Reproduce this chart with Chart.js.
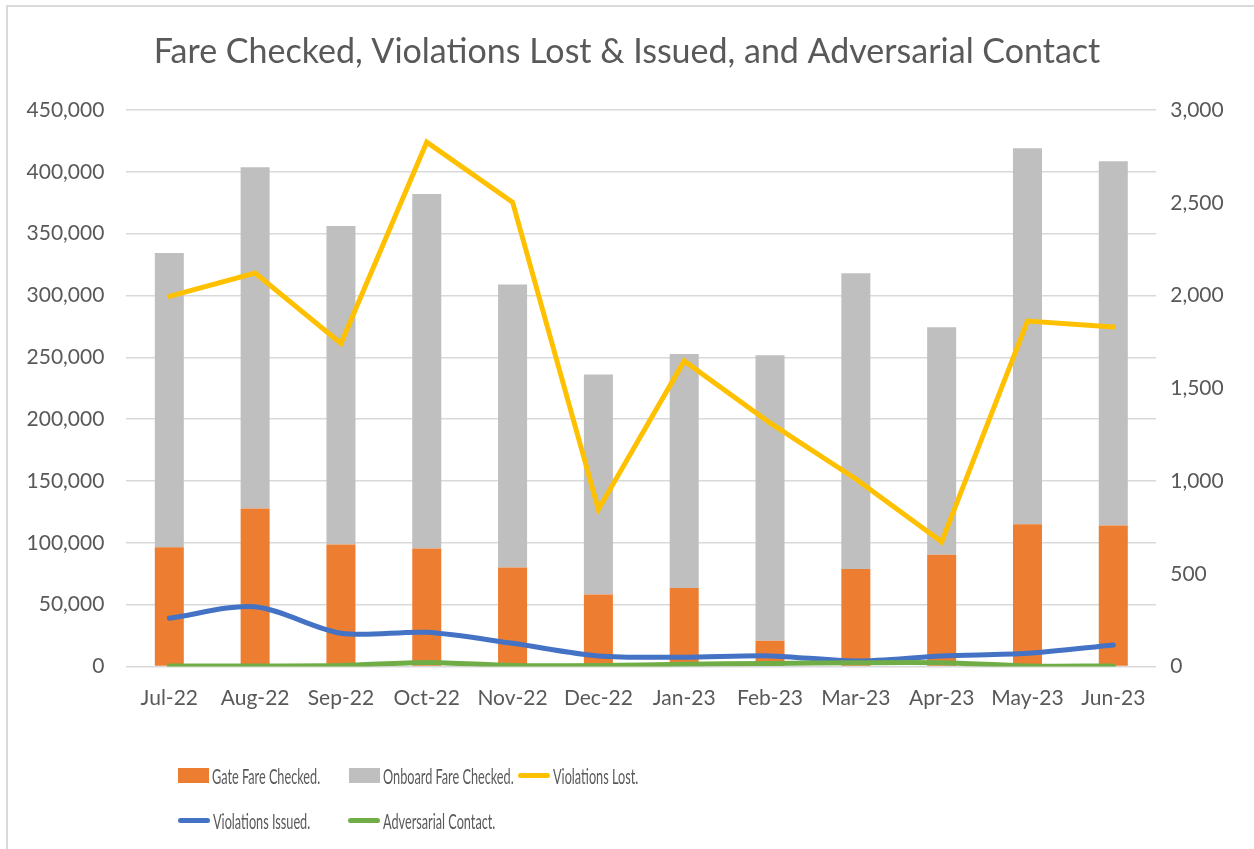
<!DOCTYPE html>
<html><head><meta charset="utf-8">
<script src="https://cdn.jsdelivr.net/npm/chart.js@4/dist/chart.umd.min.js"></script>
<style>
html,body{margin:0;padding:0;background:#fff;overflow:hidden}
#wrap{position:relative;width:1254px;height:849px}
#frame{position:absolute;left:6px;top:5px;width:1300px;height:900px;border-top:2px solid #d9d9d9;border-left:2px solid #d9d9d9;pointer-events:none;box-sizing:border-box}
.li{position:absolute;height:30px;display:flex;align-items:center;font-family:Lato,sans-serif;font-size:21px;color:#595959;white-space:nowrap}
.li .txt{display:inline-block;transform:scaleX(0.605);transform-origin:left center;margin-left:3px}
</style>
</head><body>
<div id="wrap">
<canvas id="c" width="1254" height="849"></canvas>
<div id="frame"></div>
<div id="legend"></div>
</div>
<script>
const categories = ['Jul-22','Aug-22','Sep-22','Oct-22','Nov-22','Dec-22','Jan-23','Feb-23','Mar-23','Apr-23','May-23','Jun-23'];
const gateFareChecked = [96500,127800,98700,95500,80100,58300,63400,20900,78800,90300,115100,114100];
const onboardFareChecked = [237800,276000,257400,286500,228700,177800,189300,230800,239100,184000,304000,294500];
const violationsLost = [1995,2121,1741,2827,2503,847,1647,1313,1011,672,1862,1830];
const violationsIssued = [260,322,179,184,125,57,50,57,30,57,71,116];
const adversarialContact = [3,3,5,22,5,5,12,16,20,20,3,3];
const leftAxis = {min:0, max:450000, step:50000};
const rightAxis = {min:0, max:3000, step:500};
const titleText = 'Fare Checked, Violations Lost & Issued, and Adversarial Contact';

Chart.defaults.font.family = 'Lato, sans-serif';
Chart.defaults.color = '#595959';

const fmt = v => v.toLocaleString('en-US');

const chart = new Chart(document.getElementById('c'), {
  data: {
    labels: categories,
    datasets: [
      {type:'bar', label:'Gate Fare Checked.', data:gateFareChecked, backgroundColor:'#ED7D31', yAxisID:'y', order:3, barPercentage:0.338, categoryPercentage:1},
      {type:'bar', label:'Onboard Fare Checked.', data:onboardFareChecked, backgroundColor:'#BFBFBF', yAxisID:'y', order:3, barPercentage:0.338, categoryPercentage:1},
      {type:'line', label:'Violations Lost.', data:violationsLost, borderColor:'#FFC000', backgroundColor:'#FFC000', borderWidth:5, pointRadius:0, tension:0, yAxisID:'y1', order:2, borderCapStyle:'round'},
      {type:'line', label:'Violations Issued.', data:violationsIssued, borderColor:'#4472C4', backgroundColor:'#4472C4', borderWidth:5, pointRadius:0, tension:0.3, yAxisID:'y1', order:1, borderCapStyle:'round'},
      {type:'line', label:'Adversarial Contact.', data:adversarialContact, borderColor:'#70AD47', backgroundColor:'#70AD47', borderWidth:5, pointRadius:0, tension:0.3, yAxisID:'y1', order:0, borderCapStyle:'round'}
    ]
  },
  options: {
    responsive:false, animation:false,
    layout:{padding:{top:32, left:0, right:0, bottom:122.5}},
    plugins:{
      legend:{display:false},
      tooltip:{enabled:false},
      title:{display:true, text:titleText, color:'#595959', font:{size:34, weight:'normal', lineHeight:1.2}, padding:{top:0, bottom:37.2}}
    },
    scales:{
      x:{stacked:true, grid:{display:false, drawTicks:false}, border:{display:false},
         ticks:{font:{size:21}, color:'#595959', padding:19, maxRotation:0, autoSkip:false},
         afterFit(s){ s.height = 60; }},
      y:{position:'left', stacked:true, min:leftAxis.min, max:leftAxis.max,
         grid:{color:'#d9d9d9', lineWidth:1.5, drawTicks:false}, border:{display:false},
         ticks:{stepSize:leftAxis.step, font:{size:21}, color:'#595959', padding:22, callback:v=>fmt(v)},
         afterFit(s){ s.width = 126.4; }},
      y1:{position:'right', min:rightAxis.min, max:rightAxis.max,
         grid:{display:false, drawTicks:false}, border:{display:false},
         ticks:{stepSize:rightAxis.step, font:{size:21}, color:'#595959', padding:14, callback:v=>fmt(v)},
         afterFit(s){ s.width = 97.8; }}
    }
  }
});

// legend laid out in Excel-like grid
const legendSlots = [[178,775.5],[349,775.5],[518,775.5],[178,820.7],[348,820.7]];
const lg = document.getElementById('legend');
chart.data.datasets.forEach((ds,i)=>{
  const [x,y] = legendSlots[i];
  const item = document.createElement('div');
  item.className='li';
  item.style.left = x+'px';
  item.style.top = (y-15)+'px';
  const sw = document.createElement('span');
  sw.style.display='inline-block';
  if (ds.type==='bar'){
    sw.style.width='31px'; sw.style.height='15px'; sw.style.background=ds.backgroundColor;
  } else {
    sw.style.width='32px'; sw.style.height='5px'; sw.style.borderRadius='3px'; sw.style.background=ds.borderColor;
  }
  const t = document.createElement('span');
  t.className='txt'; t.textContent = ds.label;
  item.appendChild(sw); item.appendChild(t);
  lg.appendChild(item);
});
</script>
</body></html>
